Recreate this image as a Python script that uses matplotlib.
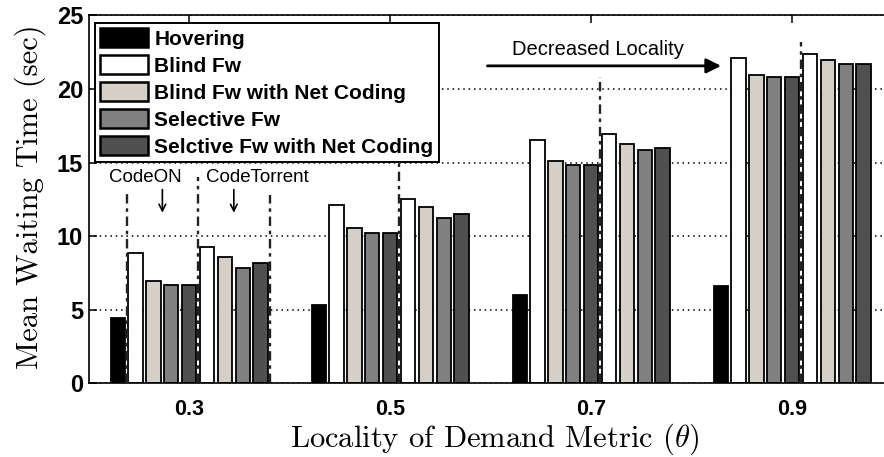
import numpy as np
import matplotlib
matplotlib.use("Agg")
import matplotlib.pyplot as plt
from matplotlib.patches import Patch

plt.rcParams['mathtext.fontset'] = 'cm'

# --- data ---
thetas = ["0.3", "0.5", "0.7", "0.9"]
hovering = [4.45, 5.32, 6.0, 6.62]
codeon_blind = [8.84, 12.1, 16.5, 22.1]
codeon_blind_nc = [6.96, 10.55, 15.1, 20.96]
codeon_sel = [6.68, 10.23, 14.84, 20.82]
codeon_sel_nc = [6.68, 10.23, 14.84, 20.82]
ct_blind = [9.25, 12.55, 16.96, 22.37]
ct_blind_nc = [8.56, 11.99, 16.25, 21.96]
ct_sel = [7.83, 11.25, 15.82, 21.68]
ct_sel_nc = [8.15, 11.53, 15.96, 21.68]

labels = ["Hovering", "Blind Fw", "Blind Fw with Net Coding",
          "Selective Fw", "Selctive Fw with Net Coding"]
colors = ["#000000", "#ffffff", "#d4d0c8", "#808080", "#505050"]

series = [hovering, codeon_blind, codeon_blind_nc, codeon_sel, codeon_sel_nc,
          ct_blind, ct_blind_nc, ct_sel, ct_sel_nc]
series_color = [colors[0]] + colors[1:] + colors[1:]

# --- plot ---
fig = plt.figure(figsize=(8.84, 4.57), dpi=100)
ax = fig.add_axes([0.1003, 0.1613, 0.9095, 0.805])

x = np.arange(1, len(thetas) + 1)
slot = 0.8 / len(series)
for i, (vals, c) in enumerate(zip(series, series_color)):
    ax.bar(x + (i - 4) * slot, vals, width=slot * 0.8, color=c,
           edgecolor="black", linewidth=1.3, zorder=2)

ax.set_xlim(0.5, 4.5)
ax.set_ylim(0, 25)
ax.set_xticks(x)
ax.set_xticklabels(thetas)
ax.set_yticks([0, 5, 10, 15, 20, 25])
for lab in ax.get_xticklabels() + ax.get_yticklabels():
    lab.set_fontfamily("Liberation Sans")
    lab.set_fontweight("bold")
ax.tick_params(axis="x", direction="in", top=True, length=6, width=1.1,
               labelsize=15.5, pad=11)
ax.tick_params(axis="y", direction="in", length=6, width=1.1,
               labelsize=17, pad=4)
for s in ax.spines.values():
    s.set_linewidth(1.2)

ax.yaxis.grid(True, linestyle=(0, (1, 2.5)), color="black", linewidth=1.1)
ax.set_axisbelow(True)

ax.set_ylabel("Mean Waiting Time (sec)", fontfamily="cmr10", fontsize=22)
ax.yaxis.set_label_coords(-0.053, 0.5065)
ax.set_xlabel(r"Locality of Demand Metric ($\theta$)", fontfamily="cmr10",
              fontsize=22)
ax.xaxis.set_label_coords(0.5056, -0.105)

# --- separators between CodeON / CodeTorrent ---
dash = (0, (4, 2, 1.5, 2))
sep_tops = [14.0, 15.0, 20.8, 23.2]
for xc, top in zip(x, sep_tops):
    ax.plot([xc + 0.5 * slot] * 2, [0, top], color="#222222",
            linestyle=dash, linewidth=1.7, zorder=3)
ax.plot([x[0] - 3.5 * slot] * 2, [0, 12.9], color="#222222",
        linestyle=dash, linewidth=1.7, zorder=3)
ax.plot([x[0] + 4.5 * slot] * 2, [0, 12.8], color="#222222",
        linestyle=dash, linewidth=1.7, zorder=3)

# --- annotations ---
ax.text(0.781, 14.0, "CodeON", fontfamily="Liberation Sans", fontsize=13.5,
        ha="center", va="center")
ax.text(1.338, 14.0, "CodeTorrent", fontfamily="Liberation Sans",
        fontsize=13.5, ha="center", va="center")
for cx in [x[0] - 1.5 * slot, x[0] + 2.5 * slot]:
    ax.annotate("", xy=(cx, 11.4), xytext=(cx, 13.35),
                arrowprops=dict(arrowstyle="->", color="black", lw=1.2,
                                mutation_scale=12))
ax.text(3.035, 22.7, "Decreased Locality", fontfamily="Liberation Sans",
        fontsize=14.5, ha="center", va="center")
ax.annotate("", xy=(3.66, 21.57), xytext=(2.47, 21.57),
            arrowprops=dict(arrowstyle="-|>", color="black", lw=2,
                            mutation_scale=22))

handles = [Patch(facecolor=c, edgecolor="black", linewidth=1.8) for c in colors]
leg = ax.legend(handles, labels, loc="upper left",
                bbox_to_anchor=(0.008, 0.98),
                prop={"family": "Liberation Sans", "weight": "bold",
                      "size": 15},
                handlelength=2.3, handleheight=1.05, labelspacing=0.3,
                handletextpad=0.3, borderpad=0.25, borderaxespad=0.0,
                fancybox=False, edgecolor="black", framealpha=1)
leg.get_frame().set_linewidth(1.4)
leg.set_zorder(5)

fig.savefig("out.png", dpi=100)
